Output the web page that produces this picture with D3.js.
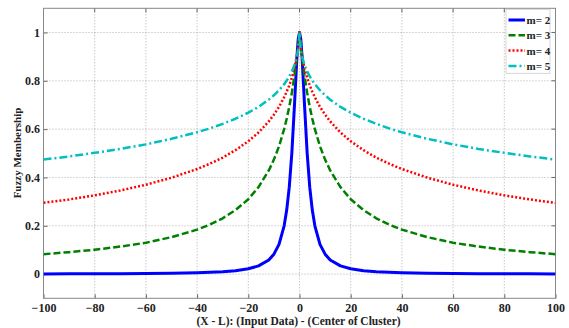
<!DOCTYPE html>
<html><head><meta charset="utf-8">
<script src="https://cdn.jsdelivr.net/npm/d3@7"></script>
<style>html,body{margin:0;padding:0;background:#fff;}svg{display:block;}</style>
</head><body>
<svg id="c" width="569" height="328"></svg>
<script>
// Distance values (X - L)
const xs = [-100,-90,-80,-70,-60,-50,-40,-35,-30,-25,-20,-16,-12,-10,-8,-6,-5,-4,-3,-2,-1,-0.5,0,
            0.5,1,2,3,4,5,6,8,10,12,16,20,25,30,35,40,50,60,70,80,90,100];
// Membership values, one array per m
const m2 = [0.0009,0.0011,0.0014,0.0018,0.0025,0.0036,0.0056,0.0073,0.0099,0.0142,0.022,0.034,0.0588,0.0826,0.123,0.2,0.265,0.36,0.5,0.692,0.9,0.973,1,
            0.973,0.9,0.692,0.5,0.36,0.265,0.2,0.123,0.0826,0.0588,0.034,0.022,0.0142,0.0099,0.0073,0.0056,0.0036,0.0025,0.0018,0.0014,0.0011,0.0009];
const m3 = [0.0826,0.0909,0.101,0.114,0.130,0.153,0.184,0.205,0.231,0.265,0.31,0.36,0.429,0.474,0.529,0.6,0.643,0.692,0.75,0.818,0.9,0.947,1,
            0.947,0.9,0.818,0.75,0.692,0.643,0.6,0.529,0.474,0.429,0.36,0.31,0.265,0.231,0.205,0.184,0.153,0.130,0.114,0.101,0.0909,0.0826];
const m4 = [0.295,0.309,0.326,0.346,0.370,0.399,0.435,0.457,0.482,0.513,0.550,0.586,0.632,0.660,0.692,0.732,0.755,0.781,0.812,0.850,0.9,0.935,1,
            0.935,0.9,0.850,0.812,0.781,0.755,0.732,0.692,0.660,0.632,0.586,0.550,0.513,0.482,0.457,0.435,0.399,0.370,0.346,0.326,0.309,0.295];
const m5 = [0.474,0.487,0.502,0.518,0.537,0.560,0.587,0.603,0.622,0.643,0.668,0.692,0.722,0.740,0.761,0.786,0.801,0.818,0.839,0.864,0.9,0.927,1,
            0.927,0.9,0.864,0.839,0.818,0.801,0.786,0.761,0.740,0.722,0.692,0.668,0.643,0.622,0.603,0.587,0.560,0.537,0.518,0.502,0.487,0.474];
const seriesNames = ["m= 2","m= 3","m= 4","m= 5"];
const xTicks = [-100,-80,-60,-40,-20,0,20,40,60,80,100];
const yTicks = [0,0.2,0.4,0.6,0.8,1];

const styles = [
  {color:"#0000ff", w:3,   dash:null},
  {color:"#008000", w:2.5, dash:"7,3"},
  {color:"#ff0000", w:2.5, dash:"2,2"},
  {color:"#00bfbf", w:2.5, dash:"8,3,2,3"}
];
const series = [m2,m3,m4,m5].map((v,i)=>({name:seriesNames[i], values:v, style:styles[i]}));

const svg = d3.select("#c");
const L=43.5, R=555.5, T=8.3, B=298.3;
const x = d3.scaleLinear().domain([-100,100]).range([L,R]);
const y = d3.scaleLinear().domain([-0.1,1.1]).range([B,T]);
const font = "'Liberation Serif','Times New Roman',serif";

// grid
const g = svg.append("g");
g.selectAll(".gx").data(xTicks.slice(1,-1)).enter().append("line")
  .attr("x1",d=>x(d)).attr("x2",d=>x(d)).attr("y1",T).attr("y2",B)
  .attr("stroke","#9a9a9a").attr("stroke-width",0.8).attr("stroke-dasharray","1,2");
g.selectAll(".gy").data(yTicks).enter().append("line")
  .attr("x1",L).attr("x2",R).attr("y1",d=>y(d)).attr("y2",d=>y(d))
  .attr("stroke","#9a9a9a").attr("stroke-width",0.8).attr("stroke-dasharray","1,2");

// axes
const xAxis = d3.axisBottom(x).tickValues(xTicks).tickSize(-4).tickPadding(5).tickFormat(d3.format("d"));
const yAxis = d3.axisLeft(y).tickValues(yTicks).tickSize(-4).tickPadding(3.5).tickFormat(d=>d===0||d===1?String(d):d.toFixed(1));
const ax = svg.append("g").attr("transform",`translate(0,${B})`).call(xAxis);
const ay = svg.append("g").attr("transform",`translate(${L},0)`).call(yAxis);
[ax,ay].forEach(a=>{
  a.select(".domain").remove();
  a.selectAll(".tick line").attr("stroke","#666");
  a.selectAll("text").attr("font-family",font).attr("font-weight","bold").attr("font-size",12).attr("fill","#222");
});
// top ticks & right ticks
svg.append("g").selectAll("line").data(xTicks).enter().append("line")
  .attr("x1",d=>x(d)).attr("x2",d=>x(d)).attr("y1",T).attr("y2",T+4).attr("stroke","#666");
svg.append("g").selectAll("line").data(yTicks).enter().append("line")
  .attr("x1",R-4).attr("x2",R).attr("y1",d=>y(d)).attr("y2",d=>y(d)).attr("stroke","#666");

// frame
svg.append("rect").attr("x",L).attr("y",T).attr("width",R-L).attr("height",B-T)
  .attr("fill","none").attr("stroke","#888").attr("stroke-width",1);

// lines
const line = d3.line().x((d,i)=>x(xs[i])).y(d=>y(d));
svg.append("clipPath").attr("id","cp").append("rect").attr("x",L).attr("y",T).attr("width",R-L).attr("height",B-T);
series.forEach(s=>{
  svg.append("path").datum(s.values).attr("d",line).attr("fill","none")
    .attr("stroke",s.style.color).attr("stroke-width",s.style.w)
    .attr("stroke-dasharray",s.style.dash).attr("stroke-linejoin","round")
    .attr("clip-path","url(#cp)");
});

// legend
const lg = svg.append("g");
lg.append("rect").attr("x",506).attr("y",9.3).attr("width",44).attr("height",64)
  .attr("fill","#fff").attr("stroke","#ccc").attr("stroke-width",0.8);
series.forEach((s,i)=>{
  const yy = 20 + i*15.3;
  lg.append("line").attr("x1",508.5).attr("x2",525).attr("y1",yy).attr("y2",yy)
    .attr("stroke",s.style.color).attr("stroke-width",s.style.w).attr("stroke-dasharray",s.style.dash);
  lg.append("text").attr("x",526.5).attr("y",yy+4).text(s.name)
    .attr("font-family",font).attr("font-weight","bold").attr("font-size",11).attr("fill","#222");
});

// axis titles
svg.append("text").attr("x",298.5).attr("y",325).attr("text-anchor","middle")
  .attr("font-family",font).attr("font-weight","bold").attr("font-size",11.5).attr("fill","#222")
  .text("(X - L): (Input Data) - (Center of Cluster)");
svg.append("text").attr("transform",`translate(21,153) rotate(-90)`).attr("text-anchor","middle")
  .attr("font-family",font).attr("font-weight","bold").attr("font-size",11).attr("fill","#222")
  .text("Fuzzy Membership");
</script>
</body></html>
